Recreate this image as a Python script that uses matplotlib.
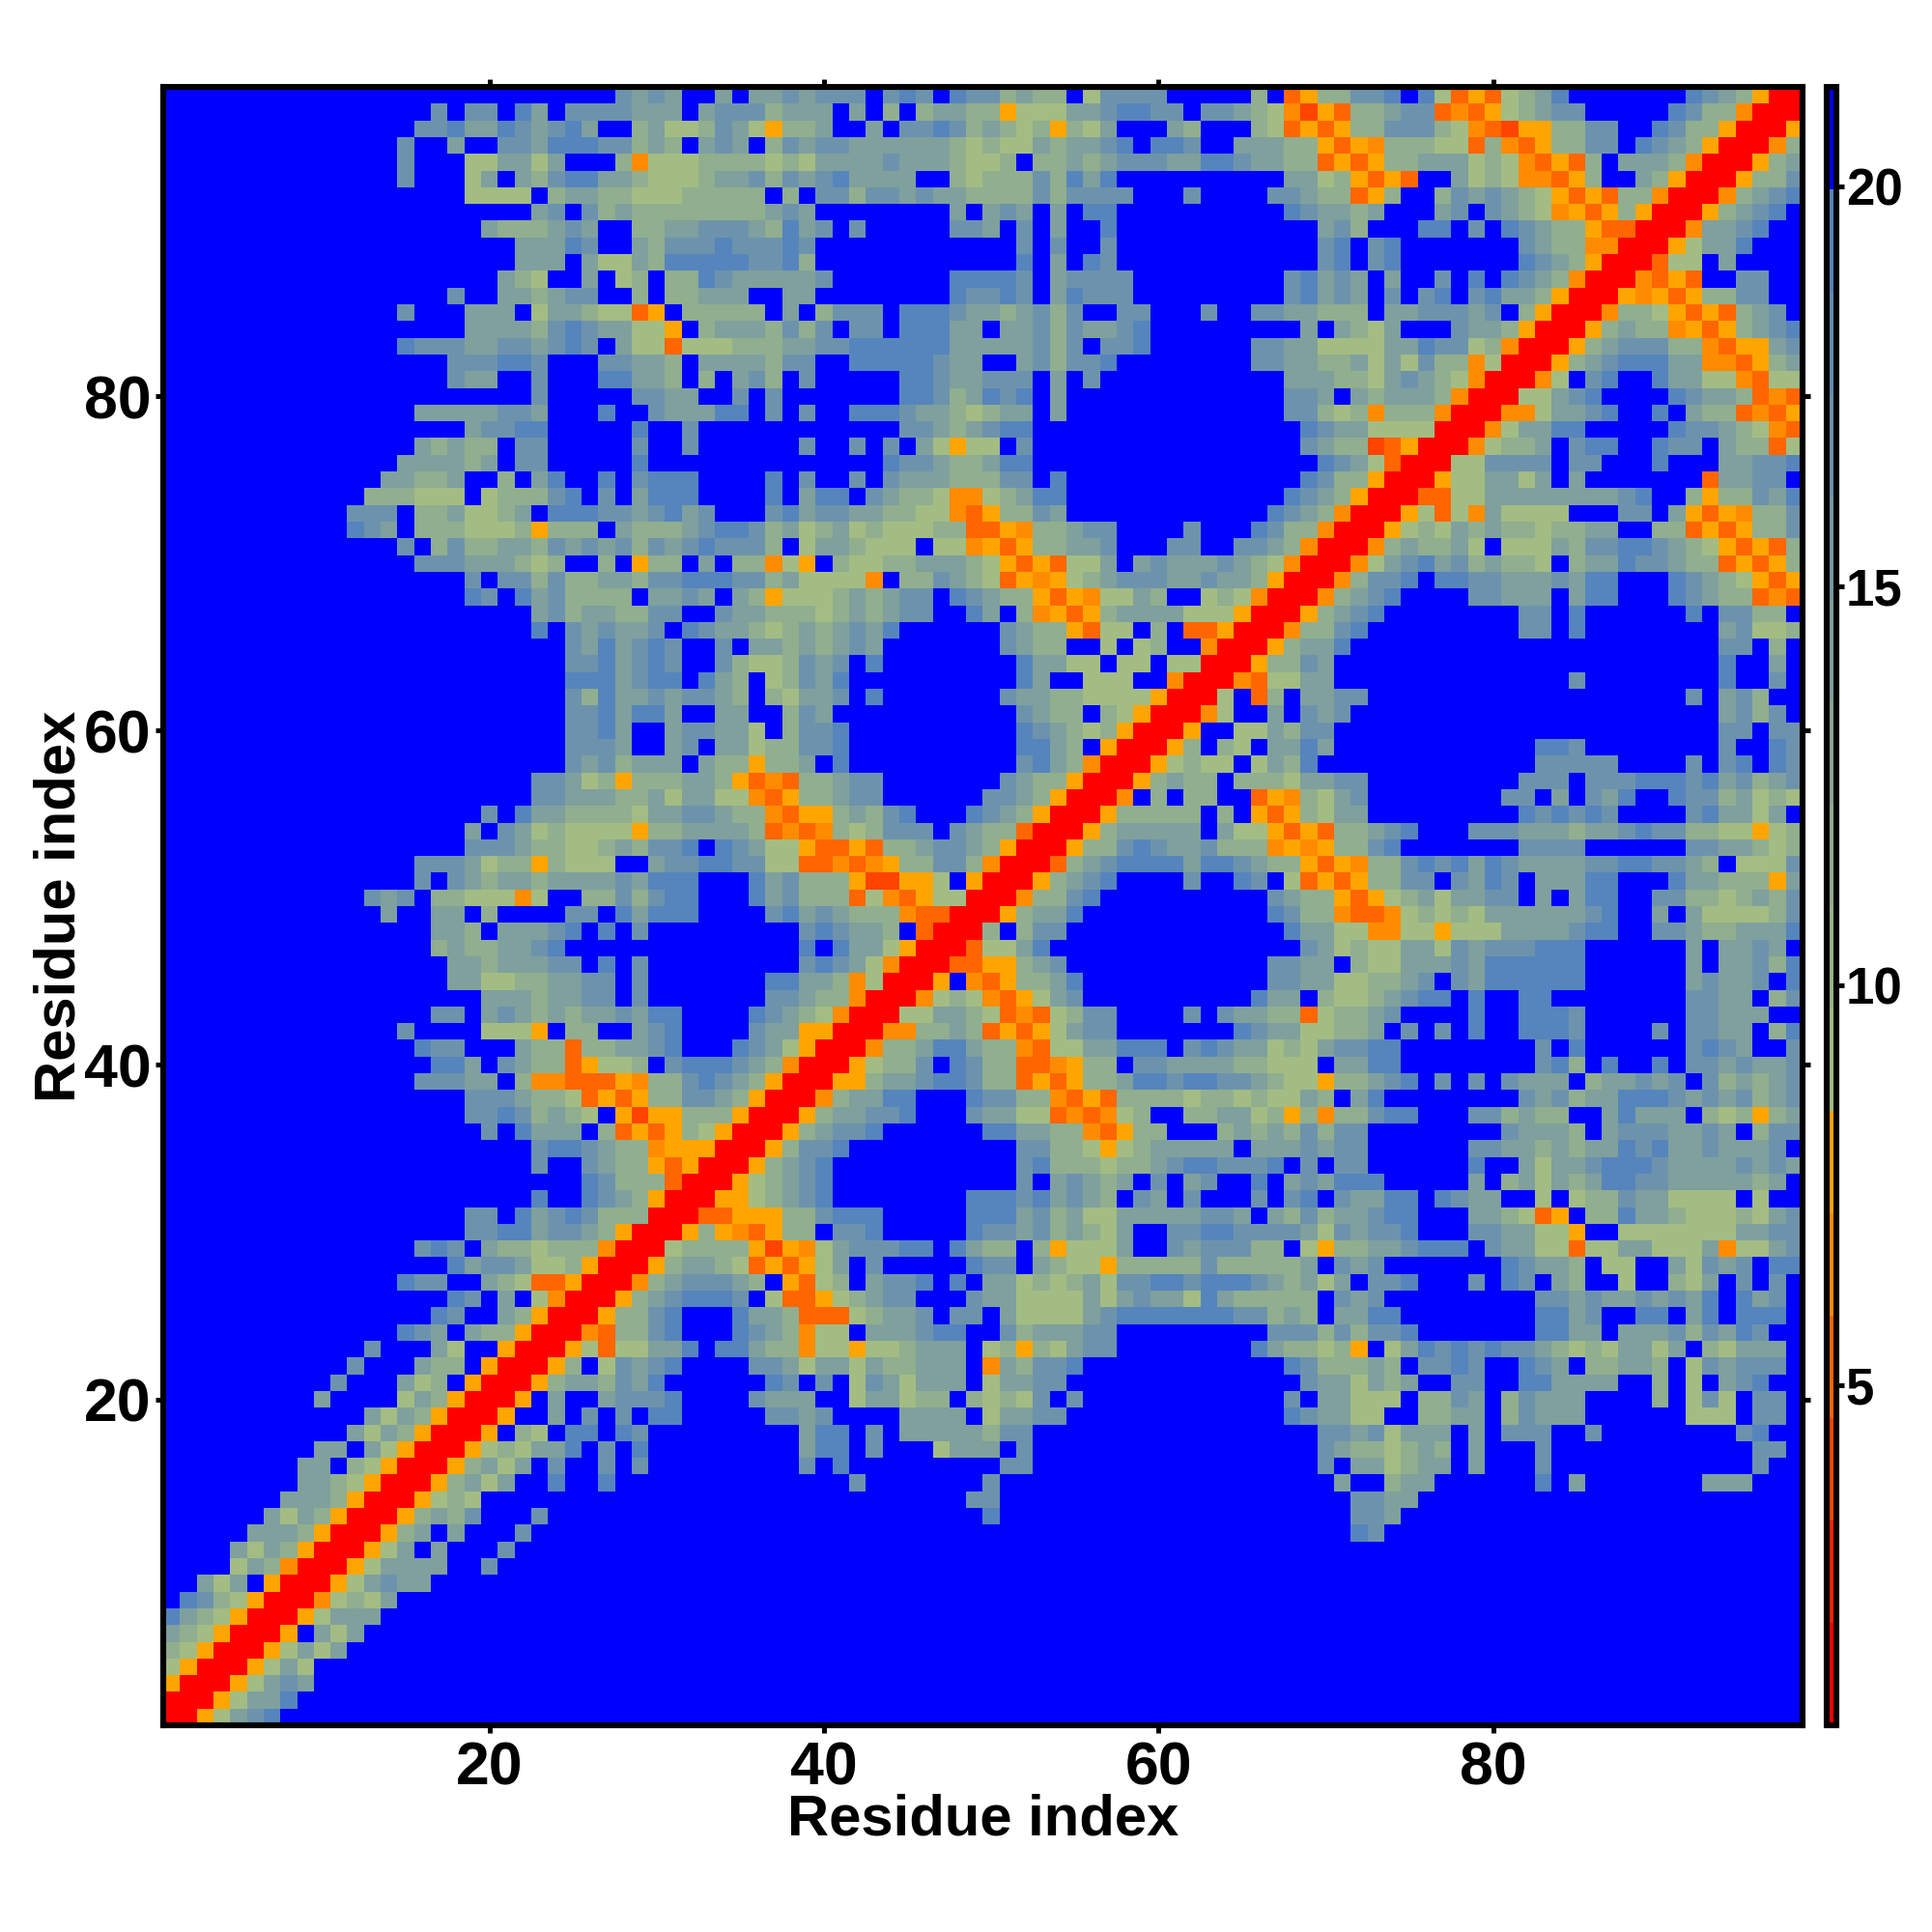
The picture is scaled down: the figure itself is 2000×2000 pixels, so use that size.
import re
import numpy as np
import matplotlib
matplotlib.use("Agg")
import matplotlib.pyplot as plt
from matplotlib.colors import ListedColormap

# distance map, top row (residue 98) first
# letters are colour bands, a number is that many blue cells
LEFT_ROWS = [
    "27jiji.", "16j.jj.ki.jjjjiii.", "15jjkiikjijki..higg", "14j..i..jjikkkjjhih.",
    "14j...ggiigi...hMggg", "14j...gi.ihjkkiihggg", "18gggg.hiihhgggh", "22ij.jhihhhh",
    "19ihhhiji..hhii", "21iiikj..ihjj", "21iii.iggihkk", "20ihg..i.gh.hh",
    "17j..iihijj..h.hh", "14j...iii.giihggOY.h", "18iiiihjkjiiggY.", "14kjjjiijjijkj.iggOg",
    "17jjjkkj...jjiih.", "17jii..j...kkiih.", "22j.....jjii", "15iiiiijji...k..jii",
    "18ijjkk.....k..j", "15ihihh.jj.....j..j", "14iiiihi.jj.....k...", "13iihhi..h.ik..k.jkkk",
    "12hhhggg.ghhhjk.j.ikkk", "11jjj.hhigghi.kkkjjijki", "11kji.hhhggghYhhh.ihhhi", "14j.hjhhiihjijijhjij",
    "15jjjiiihgh..h.Yhh.", "18j.jjhjhhiihjjk", "18kj.kijhhhh.iij", "22ijhiihhjj.",
    "22k.jijiij.k", "24jikijkj.", "24jjkijkj.", "24kkkijkk.",
    "24jhkiijij", "24jjkikki.", "24jjki..ij", "24jjji..ij",
    "24jijhiii.", "22jjighYhhhi", "22jjiiihhigi", "19j.kiihhhhgiij",
    "18i.jighggggYhhi", "18jjjihhgghihjjk", "15jjjighhYhggg..ijj", "15j.jihiihiiiijikkk",
    "12jij.hhgggMg..hhjhjkk", "13i..ii.h....jj.kikkk", "16iih.iiijk.k.j...", "16hihhiijk8",
    "17iihiiijj.k.j...", "17iigghhiijj.j...", "19iiihiijj.j...", "16jj.ijihihiijikk.",
    "14j....gggY.hh..ijk.", "15kjj...ihhOhhiijk.", "16kki.jihhOYggh.jk", "15jjjii.hMMOOOYMhhj",
    "18jjjihhgOYOYhhj", "18jjkjhihg.YSYYh", "19j.kiii.hOYOYh", "22jkkjihhMYY",
    "22j..jihhYOY", "25kjhhhOR", "22k..kjihYRR", "18jj.kijkjhhhRRR",
    "18jjkkijjihYRRRY", "15jkj.ihhghhhMRRRgh", "17kijjigghYRRRYhi", "14kjj..ihgOOYRRRMhij",
    "17kj.i.gMRRRYhijk", "16kj..ihYRRRYhhjk.", "14kji.ihhYRRRMOhhjk.", "12j...ig..YRRRYgOggiik",
    "11j...ihh.YRRRYh.gjijk.", "10j...igh.YRRRYhiihjik..", "9i....gihYRRRY.i..ijjjk.", "12igihYRRRY..i.j.j.kk.",
    "11igihYRRRY.hg.kk.kj...", "9ii.igYRRRYghgiik.j.k...", "8ii.hgYRRRYhigi.j..j.j...", "8iihgYRRRYhigi..k..k.....",
    "7iiihYRRRYghg13", "6igihYRRRYhihj...j9", "5iiihYRRRYhi.i...j10", "4igihYRRRYgi.i...j11",
    "4gihMRRRYgiiii..j12", "2igi.YRRRYgijii16", "1kjhgYRRRMghgi18", "kihgYRRRYgiii19",
    "ihgYRRRY.igi20", "hgYRRRYgigi21", "gYRRRYgig23", "YRRRYgiji23",
    "RRRYgiik24", "RRYgijk25",
]
MIDDLE_ROWS = [
    ".i.iijijjj.jkj.kjjhihh.gjjjj....", "ijjjhiii.i.h.hiihhYgggiijkkjj.jj", "hjigYhhi..i.jjkjhihghYhgi...ih..", "iji.hjijjiiiiiihghggihiijk.kkj..",
    "hhhhghgiiiijiiihggh.hhihijjjiikk", "hiijhjijkiiii..hghhhjhkik7", "hhhh.h.jjhjjijiihhhhjhjjjj...j..", "hhhhiji8i.iji.i.kk7",
    "jjjihkij.j5jji.j.i..k7", "jkjjjkj12j.j..j7", "kkkjjkh12k.i.kj7", "kjiiiiij7kkkkj.ijjjj6",
    "iii..ii8kjjkj.ikjjj6", "hhhh.i.hjjj.kkkjiihijhj..jj...j.", "hiiihjhj.jj.kkkii.iijhjiijk5", "gghhhiijjkkkkkkiiiiijhj.jjk5",
    "iiiihjj..kkkkkjii..ijhjjk7", "h.ijh.j5kkjiijjj.i.j8", "..j.j7kkjhikjk.i10", "ikk.j.j..kkkjiihghii.i10",
    "12jjihijkk12", "6j..j.j.igYgg.j12", "11kjjihhikk12", "4k.j..j.jiiihhhjj.k10",
    "4k.ikk.jihhgMMghikk10", "j...jkijjiihhggMOYhhji10", "jkkjhighighggghhOOYMhhijj....j..", "kjjjh.giihggg.ggMYOYhhiij...jj..",
    "i.hhMgY.hgghhiiihgYOYOggi.ijiiij", "kkjjhiggggM.hhjihgOYMYghijjjiiji", "i.ihYggghihijj.kjihhYOYMggih..gh", ".jiihhhghihijj..ki.hMYOYhiiiiggg",
    "jiihghihijik6jihhYOgg.h.OOY", ".j.iihihiji7jihh..g.gh..MR", ".jhgghjij.k8kiigg.gg.ggRR", "kih.ghjik10ki..ggg..MRRR",
    "jih.hgiij.k7jiihhggggYRRRg", ".ii..hji11jihh.hgYRRRMg", "jiig.hjjk10kjihghYRRRY..", ".iighhjjk10kkih.YRRRYh.h",
    "ihhYhhi.k10jkihMRRRYghgg", "ihYOMOhhijj7jihhYRRRYhihh.", "iggMOYhhijj6jjihYRRRM.h.hh.", "jihhMOYYhihjk...kjihYRRRYhhhhh.h",
    "iiihOMOMhghjjj.jihhORRRYhiiiii.i", ".kjiggYOOYOhhijjihYRRRYhhjkjiijh", "kkjjggOOMOMYhhjjhMRRROhijkkkkikk", "...kijhhhYSSYYg.YRRRYhijk....j..",
    "...kijhhhOgMOYggRRRMhhjk8", "4jkijihhhMOORRRYhiik9", "6jkjiih.ORRRh.hjj10", "6k.kiigYRRROggik11",
    "6jkjigMRRROOYYhij10", "4kkiihMgRRRY.MOYhhik9", "4jjihhMRRRMghgMOYgij9", "...kjihgMRRRggiihgOMOghjj....j.j",
    "...jiiYYRRRMMhhihOYOYgijj7", "..kjigYRRRMhhikkihhMOggiikkk.jkj", "kkjihMRRRYghhj.kjhhOOMYhh.jjiiii", "kjihYRRRYYhiijkkjhhOYOYhhikkjkkj",
    "jihYRRRMhiikk...kjjhhMOYOhhhhghh", "hhYRRRYhiijjk...jiiggOMOMgh..hhi", "gYRRRYhijjk6kkiihhMOYhh...h", "YRRRYhjjk10jjhhgYghiiiii",
    "RRRYhijk11jkhhhghhijkkj", "RRYghijk11j.ijihi.j.ij.", "RYYghijk8kkkjkijih.ji.j..", "OOYYYhhjkkk5kkkijhiggiiiiijj",
    "hYMOYhh.jjk5kjjijhihgi..jjkk", "hhhYSYMgijjjkk.kihh.hYgggi..jijj", "ihgOYOYgi.j5kjj.ihggYhhhhhjh", "jjih.YOgh.ijjk.k.iighghigjjkkjkk",
    "kkj.gOOYghijj...jiiggggigijiigki", "..kiihOOOghiij.jj.iggggijkkkkkkk", "..kjihMgg.iiijkk..jhiiijj7", ".kkihhMggYgghiii.ghYhgijj7",
    "...jjigiigihhiii.Mihjjk9", "4kj.j.gjigiii.giijj10", "...jiii..giighh.hghgj.j9", "4jjij....iiii.giijj10",
    "6ikk.j.iiiiihjj12", "6ikk.j...giii.j12", "6j.k9jj12", "9j7j14",
    "16jj14", "17k14", "32", "32",
    "32", "32", "32", "32",
    "32", "32", "32", "32",
    "32", "32",
]
RIGHT_ROWS = [
    ".h.OYhhjjk.kgOYOghik7kjihYRR", "ihgMSYOhhijjOMOYghijj5kjhhMRRR", ".hgOYOYhhjjjhgMOSYYhhjj..kjhhYRRRY", "iiihhYOYMhhhggOhMOYhhjj.kjihYRRRMh",
    "jiihhOYOYhhiiighgMOYOh.iiihMRRRYhi", "...iighYOYO..ighgMMOYh..ihYRRRYhhj", "..jjihhOYh..hjijihgYOYOhhMRRRMhijk", "...kjiihi...ij.jihgMYOYhYRRRYhijk.",
    "5ijh...kk.j.kjihhYOORRRMiijk..", "5jk.jk7jihhMMRRRYgiik...", "5jk.jk7kjihYRRROgg.i4", "...jkiji.i..j.k.kjihMRRRMOYO..jj..",
    "...jkiji.j.jk.jkiihYRRRYMYOYhhjj..", ".jjiihhh.iijjjij.hYRRRMhhgYOYOhij.", "4i.ihgi...jiihYRRRYhihhMYOYhijk", ".jjiiggggiikjjghMRRRYhijjjhhMOYYij",
    ".jjiihhigigjhhMgRRRYhijkkkiiMMOYhi", "...iiihhgijihgMRRRMg.jk..kiiggMOgg", "...jji.ihiiihMRRRggijk4kjiihOMO", "...jjhghMhhhMRRRMMgiijk..k.ihhOMOY",
    "4kjiiggggRRRMgiikk5kjjihgMO", "4jihhSOYRRRMghhi.jkk..kjj.ihhOg", "5kjigORRRggjjjj.jj...k...iijjk", "4kjhhYRRRYggiigi.i7Oiijj.",
    "...kjihYRRROOggiiiiiiiijk..hYhhjik", "..kjihMRRRYgOgMigggg...jj.iYOYMhhj", ".kjhhMRRRYghgihihhghhii..hhOYOYhhj", "jjihMRRRMhihhig.gggihjjkkjihgYOYOh",
    "ihgMRRRMgijkijhihhg.hiikjjihhOYOYh", "ihYRRRMhjjk.kkjjiiijikk...kjihgYOY", "gMRRRMhijk....jjiii.ikk...kjihhOMO", "YRRRYhijk8jj.k6k.jjhh.",
    "RRRMhhjk9jj.k8ijggh", "RRYhiik22jj.h.", "RYhhji23k..i.", "MOggii14j8k..j.",
    ".Oh.iijj19j.ijh..", "..i.jij22ijhj.", "ggihjj23jj.jj", "g.iiki12kkj8j..kj",
    ".gihk13jjjjj4j.jk.kj", "hhhgiijj9jjj.jjjkkkjkijhij", ".OYMhgij8jj.i.jik..kjjhighg", ".YOYhgii9kjkjkj4jkiigi.",
    "ggYOYOhhijk...jjjiiihiijkjjhhggYgh", "hhMYMYhhjk7jjjj6jjiihgh", "jihhYOYMhhjkjkikjiiiijjkkjjih.gggj", "kj.gOYOYhhjj.jikj.iiikk...kiihhhYi",
    "..jihhYOYghigiijj.i.ikk..jjhhghihj", "..kjhhMOOMghghgiiiiiijk..i.igggghj", "...kiiggMMggYgggiiiijkk..jjihhiiik", "4jighggiigjijjjkkk6i.iiji.",
    "..jjii.hggiiijikkkkkk6i.iijhk", "..jjiigghhij.jikkkkkk6ijiij.k", ".kii.hgghijkk.k..kk8jjii.hj", "iihhOghhij....k..kkkj6jjiii..",
    "kjiigghhi.j.j.k..kkkj....j.jjii.hk", "iighgijjkk8j.k6jkji..j", "hhggg.iikk8jkh.k..k.jjijiij", "jihggYhhijk.j.j.jiii.hiijij.jhihij",
    "ghggih.ik8jijhiikkkjijijhij", "ighYhMhhjkk...jjhihh..ikiii.hghYhi", "ihihjhjj8jiiih.ijjjiiji.hjj", ".iiijijj6jjiihihiikjkiijiiij.",
    "jjk.j.jj6k..igiijkkkjiiiijiji", ".k.ijikkk5i.higihikkjjiiiiihi.", ".j.jk.jiikk.kjii..g.ghhjiigggg.g..", "i.ihjhiijkk...iihgOY.hhkiihggghgij",
    "jjjjigjijjk...jjiiggY..gggggggiijj", "jhh.gYhhiijkkk.jiiggOggiigggiMggij", "hhhhi.jij7kjiih.gg..igjij.kk", "kjihigi.jjk...j.kj.ih..g..hgi.j.j.",
    "hhhhh.jij9jjijiijijik.kij.", "jjhih.iikk8kkij..kk.ik.kkk.", "..jjjhjhjjk7kkii.iiijhjikj..", ".kihhghY.gikjkjkjjihghgiigi.hgiii.",
    "...kjhhhih.jjkj..kji.hhiih.gjijjj.", "4jiigihi..jj..kkiiii..h.g.ijk..", "...j.iiggg.hhji.hjiii....h.gjg.jj.", "...kjiigg..hhii.hjiii6ggg.jj.",
    "5jjijgiii.i.jjj..j8jk..", "5jihhghih.i...j12jj.", "5j.iighii.i...j12j..", "6i..hii6k.i7iii...",
    "7jjii23", "7jji24", "7kj25", "34",
    "34", "34", "34", "34",
    "34", "34", "34", "34",
    "34", "34",
]

BAND_COLORS = ["#ff0000", "#ff2200", "#ff4400", "#ff6600", "#ff8c00", "#ffa500",
               "#a3bc83", "#9ab588", "#91ae8f", "#88a796", "#7fa09d", "#769aa5",
               "#6d93ac", "#648cb4", "#5585bc", "#0000ff"]
BAND_OF_LETTER = {"R": 0, "S": 2, "O": 3, "M": 4, "Y": 5, "g": 6, "h": 8,
                  "i": 10, "j": 12, "k": 14, ".": 15}
TICKS = [20, 40, 60, 80]
BAR_TICKS = [5, 10, 15, 20]
VMIN, VMAX = 0.74, 21.25


def expand(row):
    return re.sub(r"\d+", lambda m: "." * int(m.group()), row)


rows = [expand(a) + expand(b) + expand(c) for a, b, c in zip(LEFT_ROWS, MIDDLE_ROWS, RIGHT_ROWS)]
step = (VMAX - VMIN) / len(BAND_COLORS)
dist = np.array([[VMIN + (BAND_OF_LETTER[ch] + 0.5) * step for ch in row] for row in rows])[::-1]

plt.rcParams["font.family"] = ["Liberation Sans", "DejaVu Sans"]
plt.rcParams["font.weight"] = "bold"

fig = plt.figure(figsize=(20, 20), dpi=100)
ax = fig.add_axes([169 / 2000, 1 - 1786 / 2000, (1866 - 169) / 2000, (1786 - 90) / 2000])
cax = fig.add_axes([1891 / 2000, 1 - 1786 / 2000, 10 / 2000, (1786 - 90) / 2000])

im = ax.imshow(dist, origin="lower", extent=(0.5, 98.5, 0.5, 98.5), aspect="auto",
               cmap=ListedColormap(BAND_COLORS), vmin=VMIN, vmax=VMAX, interpolation="nearest")
ax.set_xticks(TICKS)
ax.set_yticks(TICKS)
ax.tick_params(top=True, right=True, length=6, width=3.6, labelsize=45)
ax.tick_params(axis="x", pad=5)
ax.tick_params(axis="y", pad=3)
ax.set_xlabel("Residue index", fontsize=43, fontweight="bold", labelpad=-3)
ax.set_ylabel("Residue index", fontsize=43, fontweight="bold", labelpad=-2)

cb = fig.colorbar(im, cax=cax)
cb.set_ticks(BAR_TICKS)
cax.tick_params(length=6, width=3.6, labelsize=38, pad=1)

for a in (ax, cax):
    for spine in a.spines.values():
        spine.set_linewidth(4.4)
        spine.set_color("black")

fig.savefig("out.png", dpi=100, facecolor="white")
